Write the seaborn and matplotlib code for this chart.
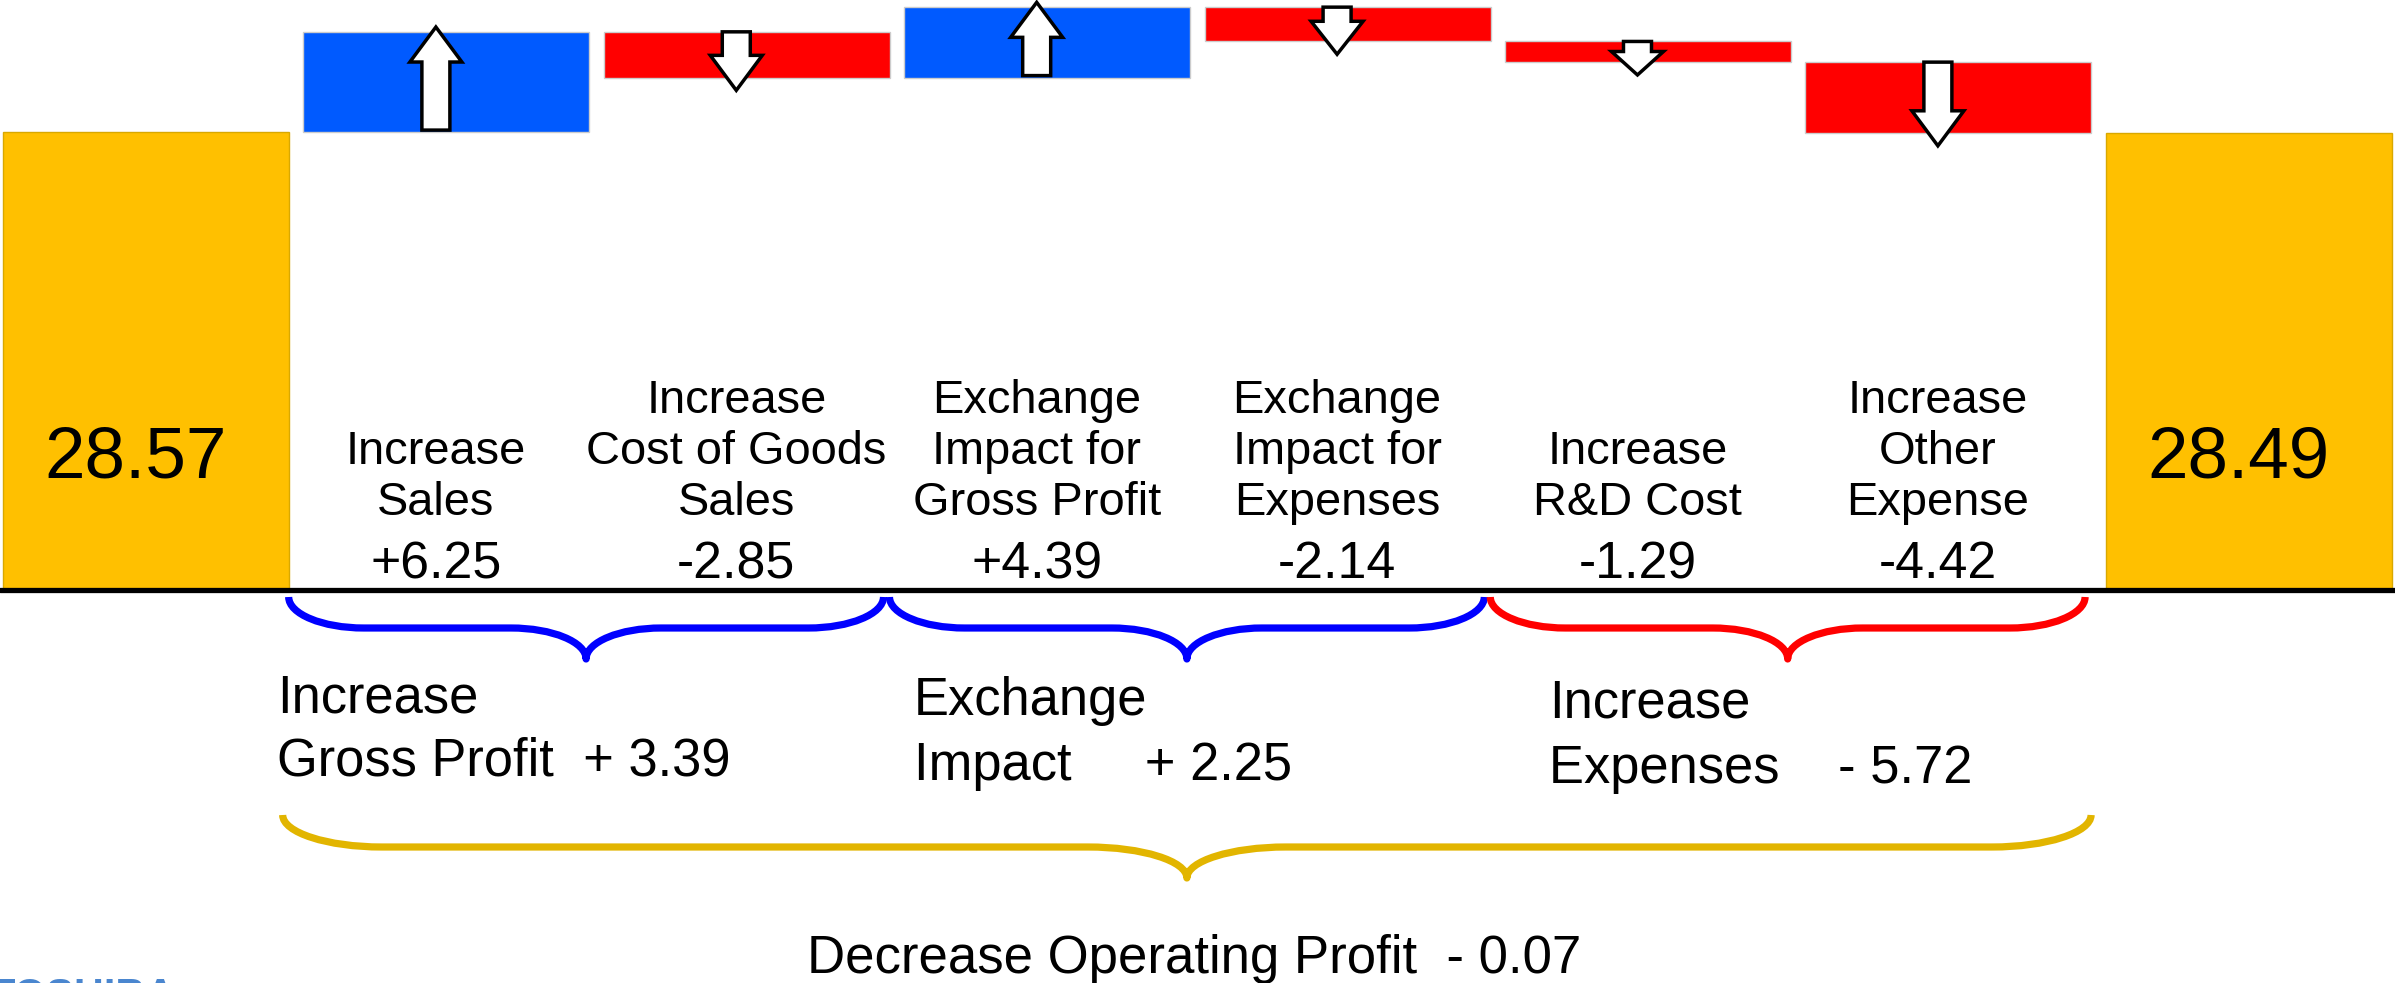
import pandas as pd
import seaborn as sns
import matplotlib.pyplot as plt
from matplotlib.patches import Polygon, PathPatch
from matplotlib.path import Path

# ---- data (operating profit bridge, billion yen) ----
steps = ["start", "sales", "cogs", "fx_gp", "fx_exp", "rnd", "other", "end"]
start_value = 28.57
end_value = 28.49
changes = [6.25, -2.85, 4.39, -2.14, -1.29, -4.42]
change_text = ["+6.25", "-2.85", "+4.39", "-2.14", "-1.29", "-4.42"]
change_labels = [
    ["Increase", "Sales"],
    ["Increase", "Cost of Goods", "Sales"],
    ["Exchange", "Impact for", "Gross Profit"],
    ["Exchange", "Impact for", "Expenses"],
    ["Increase", "R&D Cost"],
    ["Increase", "Other", "Expense"],
]
# groups: first bar, last bar, colour, text lines
group_first = [1, 3, 5]
group_last = [2, 4, 6]
group_colors = ["#0000FF", "#0000FF", "#FF0000"]
group_text = [
    ["Increase", "Gross Profit  + 3.39"],
    ["Exchange", "Impact     + 2.25"],
    ["Increase", "Expenses    - 5.72"],
]
total_text = "Decrease Operating Profit  - 0.07"

GOLD = "#FFC000"
BLUE = "#005AFF"
RED = "#FF0000"
BRACE_GOLD = "#E2B500"

# ---- build waterfall table ----
bottoms, heights, colors = [0.0], [start_value], [GOLD]
cum = start_value
for c in changes:
    bottoms.append(min(cum, cum + c))
    heights.append(abs(c))
    colors.append(BLUE if c > 0 else RED)
    cum += c
bottoms.append(0.0)
heights.append(end_value)
colors.append(GOLD)
df = pd.DataFrame({"step": steps, "bottom": bottoms, "height": heights})

# pixel helpers for layout (figure is 2395 x 983 px)
PX_X0, PITCH = 146, 300.4
PX_Y0, PX_UNIT = 590, 16.03


def xpx(p):
    return (p - PX_X0) / PITCH


def ypx(p):
    return (PX_Y0 - p) / PX_UNIT


sns.set_style("white")
plt.rcParams["font.family"] = ["Liberation Sans", "DejaVu Sans"]
plt.rcParams["text.color"] = "black"

fig = plt.figure(figsize=(23.95, 9.83), dpi=100)
ax = fig.add_axes([0, 0, 1, 1])

sns.barplot(data=df, x="step", y="height", order=steps, bottom=df["bottom"].values,
            width=0.952, errorbar=None, color=GOLD, ax=ax)
for patch, col in zip(ax.patches, colors):
    patch.set_facecolor(col)
    patch.set_edgecolor("#D9A800" if col == GOLD else "#CCCCCC")
    patch.set_linewidth(1.0)

ax.set_xlim(xpx(0), xpx(2395))
ax.set_ylim(ypx(983), ypx(0))
ax.axis("off")
ax.axhline(0, color="black", lw=3.8, zorder=5)

OFF = -0.035  # text / arrow offset from bar centre

# start / end values inside gold bars
for i, v in [(0, start_value), (len(steps) - 1, end_value)]:
    ax.text(i + OFF, ypx(477), f"{v:.2f}", ha="center", va="baseline", fontsize=52.5)

# change labels and values
for k, (lines, txt) in enumerate(zip(change_labels, change_text)):
    i = k + 1
    for j, line in enumerate(reversed(lines)):
        ax.text(i + OFF, ypx(515 - 51 * j), line, ha="center", va="baseline", fontsize=33.8)
    ax.text(i + OFF, ypx(578), txt, ha="center", va="baseline", fontsize=37.4)


# block arrows on floating bars
def block_arrow(xc, y0, y1):
    L = abs(y1 - y0) * PX_UNIT
    head = min(35, 0.7 * L) / PX_UNIT
    sgn = 1 if y1 > y0 else -1
    sw, hw = 14 / PITCH, 26 / PITCH
    yh = y1 - sgn * head
    pts = [(xc - sw, y0), (xc - sw, yh), (xc - hw, yh), (xc, y1),
           (xc + hw, yh), (xc + sw, yh), (xc + sw, y0)]
    ax.add_patch(Polygon(pts, closed=True, facecolor="white", edgecolor="black",
                         lw=2.5, joinstyle="miter", zorder=4))


for k, c in enumerate(changes):
    i = k + 1
    b, h = bottoms[i], heights[i]
    if c > 0:
        block_arrow(i + OFF, b + 0.12, b + h + 0.3)
    else:
        block_arrow(i + OFF, b + h, b - 0.8)


# curly braces
def brace(x0, x1, y_top, y_mid, y_tip, r, color, lw):
    xc = (x0 + x1) / 2
    verts = [
        (x0, y_top), (x0, y_top + 0.55 * (y_mid - y_top)), (x0 + 0.45 * r, y_mid), (x0 + r, y_mid),
        (xc - r, y_mid),
        (xc - 0.45 * r, y_mid), (xc, y_mid + 0.45 * (y_tip - y_mid)), (xc, y_tip),
        (xc, y_mid + 0.45 * (y_tip - y_mid)), (xc + 0.45 * r, y_mid), (xc + r, y_mid),
        (x1 - r, y_mid),
        (x1 - 0.45 * r, y_mid), (x1, y_top + 0.55 * (y_mid - y_top)), (x1, y_top),
    ]
    codes = [Path.MOVETO, Path.CURVE4, Path.CURVE4, Path.CURVE4, Path.LINETO,
             Path.CURVE4, Path.CURVE4, Path.CURVE4,
             Path.CURVE4, Path.CURVE4, Path.CURVE4, Path.LINETO,
             Path.CURVE4, Path.CURVE4, Path.CURVE4]
    ax.add_patch(PathPatch(Path(verts, codes), facecolor="none", edgecolor=color,
                           lw=lw, capstyle="butt", joinstyle="round", zorder=3))


for f, l, col in zip(group_first, group_last, group_colors):
    brace(f - 0.49 + OFF, l + 0.49 + OFF, ypx(597), ypx(628), ypx(659), 0.25, col, 5.2)
brace(group_first[0] - 0.51 + OFF, group_last[-1] + 0.51 + OFF,
      ypx(815), ypx(847), ypx(878), 0.33, BRACE_GOLD, 5.2)

# group texts
group_x = [277, 914, 1549]
group_base = [(712, 775), (715, 780), (717, 783)]
for gx, (b1, b2), lines in zip(group_x, group_base, group_text):
    ax.text(xpx(gx), ypx(b1), lines[0], ha="left", va="baseline", fontsize=37.8)
    ax.text(xpx(gx), ypx(b2), lines[1], ha="left", va="baseline", fontsize=37.8)

ax.text(xpx(1194), ypx(973), total_text, ha="center", va="baseline", fontsize=38)

# clipped company logo at bottom-left
ax.text(xpx(-10), ypx(977), "TOSHIBA", ha="left", va="top", fontsize=30,
        fontweight="bold", color="#4A86CF")

fig.savefig("out.png", dpi=100)
